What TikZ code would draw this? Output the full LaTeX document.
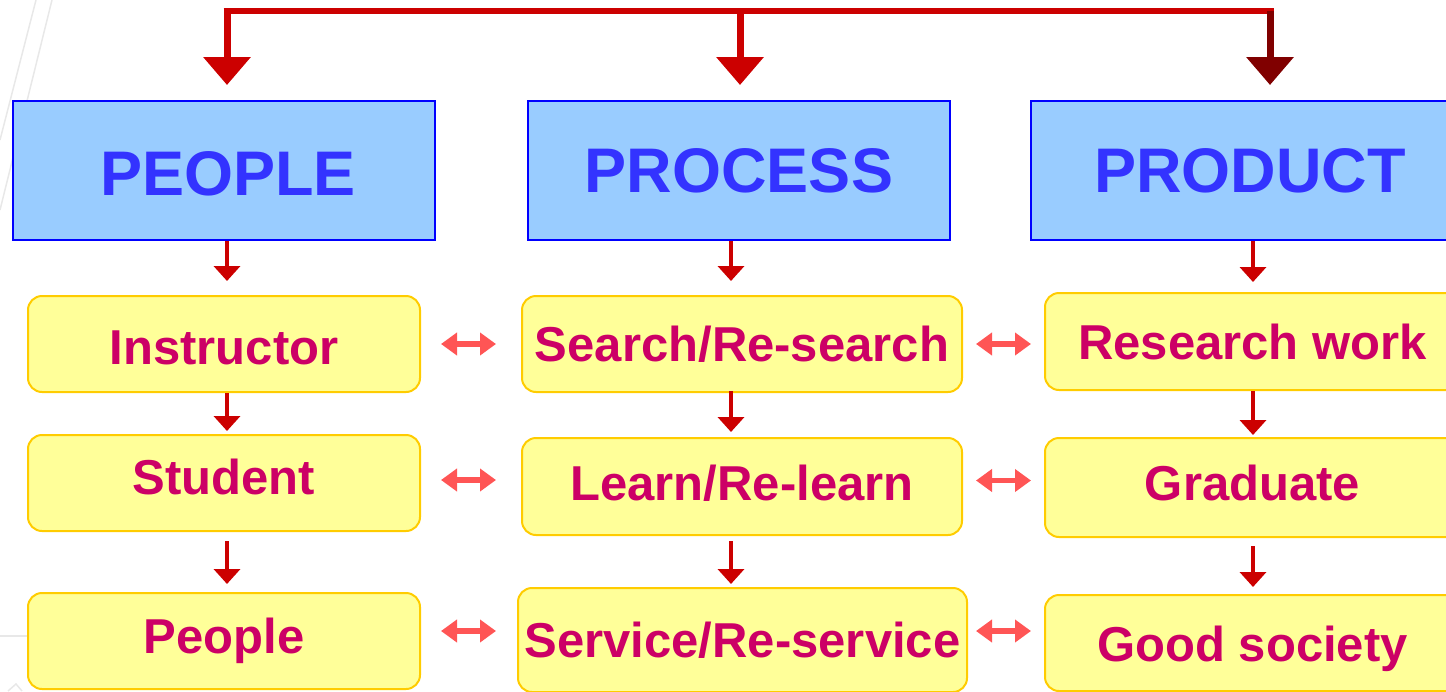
\documentclass[tikz,border=0pt]{standalone}
\usepackage{fontspec}
\setmainfont{Liberation Sans}
\usetikzlibrary{arrows.meta}
\definecolor{hdrfill}{HTML}{99CCFF}
\definecolor{hdrline}{HTML}{0000FF}
\definecolor{hdrtext}{HTML}{3333FF}
\definecolor{yfill}{HTML}{FFFF99}
\definecolor{yline}{HTML}{FFCC00}
\definecolor{ytext}{HTML}{CC0066}
\definecolor{arrred}{HTML}{CC0000}
\definecolor{arrdark}{HTML}{800000}
\definecolor{salmon}{HTML}{FF5555}
\definecolor{bgline}{HTML}{E8E8E8}
\newcommand{\mvtxt}[2]{\raisebox{#1}[\height][\depth]{#2}}
\tikzset{
  hdr/.style={draw=hdrline, line width=2pt, fill=hdrfill, text=hdrtext,
    font=\bfseries\fontsize{63}{70}\selectfont, inner sep=0pt, minimum height=139pt},
  ybox/.style={draw=yline, line width=2pt, fill=yfill, text=ytext, rounded corners=14pt,
    font=\bfseries\fontsize{49}{56}\selectfont, inner sep=0pt},
  bigarr/.style={draw=arrred, line width=7pt, -{Triangle[width=46pt,length=28pt]}, shorten >=15pt},
  sarr/.style={draw=arrred, line width=4pt, -{Triangle[width=26pt,length=15pt]}},
  darr/.style={draw=salmon, line width=5.5pt, {Triangle[width=22pt,length=16pt]}-{Triangle[width=22pt,length=16pt]}}
}
\begin{document}
\begin{tikzpicture}[x=1pt,y=-1pt]
\useasboundingbox (0,0) rectangle (1446,691);
\clip (0,0) rectangle (1446,691);
% faint background lines
\draw[bgline, line width=1.5pt] (52,0) -- (0,210);
\draw[bgline, line width=1.5pt] (36,0) -- (0,140);
\draw[bgline, line width=1.5pt] (0,636) -- (28,636);
\draw[bgline, line width=1.5pt] (8,691) -- (16,684) -- (22,691);
% header boxes
\node[hdr, minimum width=422pt] (ppl) at (224,170.5) {\hspace*{8pt}\mvtxt{-3pt}{PEOPLE}};
\node[hdr, minimum width=422pt] (prc) at (739,170.5) {PROCESS};
\node[hdr, minimum width=429pt] (prd) at (1245.5,170.5) {\hspace*{9pt}PRODUCT};
% yellow boxes
\node[ybox, minimum width=392pt, minimum height=96pt] (ins) at (224,344) {\mvtxt{-4pt}{Instructor}};
\node[ybox, minimum width=392pt, minimum height=96pt] (stu) at (224,483) {\mvtxt{6pt}{Student}};
\node[ybox, minimum width=392pt, minimum height=96pt] (peo) at (224,641) {People};
\node[ybox, minimum width=440pt, minimum height=96pt] (sea) at (742,344) {Search/Re-search};
\node[ybox, minimum width=440pt, minimum height=97pt] (lea) at (742,486.5) {\mvtxt{3pt}{Learn/Re-learn}};
\node[ybox, minimum width=449pt, minimum height=104pt] (ser) at (742.5,640) {Service/Re-service};
\node[ybox, minimum width=415pt, minimum height=97pt] (res) at (1252.5,341.5) {Research work};
\node[ybox, minimum width=415pt, minimum height=99pt] (gra) at (1252.5,487.5) {\mvtxt{5pt}{Graduate}};
\node[ybox, minimum width=415pt, minimum height=96pt] (goo) at (1252.5,643) {\mvtxt{-6pt}{Good society}};
% top distribution line and big arrows
\coordinate (tl) at (227,11);
\coordinate (tm) at (740,11);
\coordinate (tr) at (1270,11);
\draw[arrred, line width=6.5pt] ([xshift=-3.5pt]tl) -- ([xshift=3.5pt]tr);
\draw[bigarr] (tl) -- (tl |- ppl.north);
\draw[bigarr] (tm) -- (tm |- prc.north);
\draw[bigarr, draw=arrdark] (tr) -- (tr |- prd.north);
% column coordinates for small arrows
\coordinate (c1) at (227,0);
\coordinate (c2) at (731,0);
\coordinate (c3) at (1253,0);
\draw[sarr, shorten >=14pt] (ppl.south -| c1) -- (ins.north -| c1);
\draw[sarr, shorten >=14pt] (prc.south -| c2) -- (sea.north -| c2);
\draw[sarr, shorten >=10pt] (prd.south -| c3) -- (res.north -| c3);
\draw[sarr, shorten >=3pt] (ins.south -| c1) -- (stu.north -| c1);
\draw[sarr, shorten <=-2pt, shorten >=5pt] (sea.south -| c2) -- (lea.north -| c2);
\draw[sarr, shorten >=2pt] (res.south -| c3) -- (gra.north -| c3);
\draw[sarr, shorten <=9pt, shorten >=8pt] (stu.south -| c1) -- (peo.north -| c1);
\draw[sarr, shorten <=5pt, shorten >=3pt] (lea.south -| c2) -- (ser.north -| c2);
\draw[sarr, shorten <=8pt, shorten >=7pt] (gra.south -| c3) -- (goo.north -| c3);
% double arrows
\draw[darr, shorten <=20pt, shorten >=25pt] (ins.east) -- (ins.east -| sea.west);
\draw[darr, shorten <=13pt, shorten >=13pt] (sea.east) -- (sea.east -| res.west);
\draw[darr, shorten <=20pt, shorten >=25pt] ([yshift=3pt]stu.east) -- ([yshift=3pt]stu.east -| lea.west);
\draw[darr, shorten <=13pt, shorten >=13pt] ([yshift=6pt]lea.east) -- ([yshift=6pt]lea.east -| gra.west);
\draw[darr, shorten <=20pt, shorten >=21pt] ([yshift=10pt]peo.east) -- ([yshift=10pt]peo.east -| ser.west);
\draw[darr, shorten <=8pt, shorten >=13pt] ([yshift=9pt]ser.east) -- ([yshift=9pt]ser.east -| goo.west);
\end{tikzpicture}
\end{document}
